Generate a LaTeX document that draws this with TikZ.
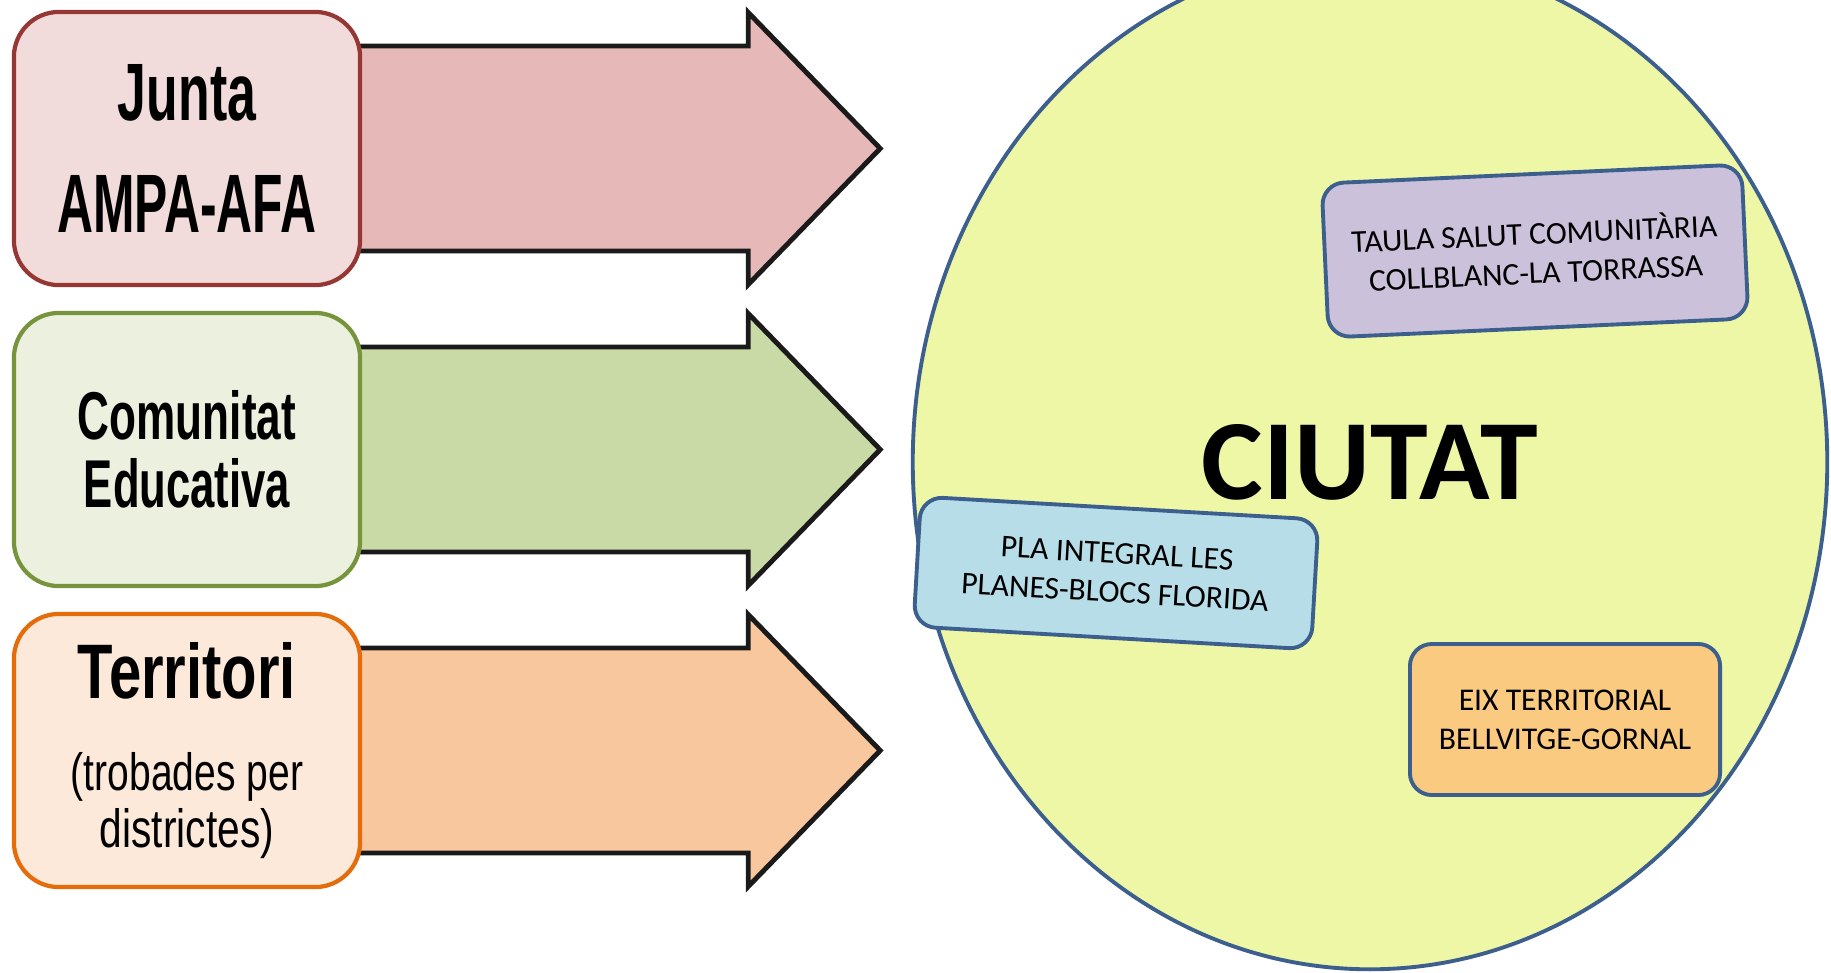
\documentclass[tikz,border=0pt]{standalone}
\usepackage{fontspec}
\setmainfont{Carlito}
\newfontfamily\narrowfont{Liberation Sans}
\usetikzlibrary{shapes.geometric,calc,backgrounds}
\definecolor{juntaline}{HTML}{953735}
\definecolor{juntafill}{HTML}{F2DCDB}
\definecolor{juntaarrow}{HTML}{E6B9B8}
\definecolor{comline}{HTML}{77933C}
\definecolor{comfill}{HTML}{EBF1DE}
\definecolor{comarrow}{HTML}{C9DAA6}
\definecolor{terline}{HTML}{E46C0A}
\definecolor{terfill}{HTML}{FDE9D9}
\definecolor{terarrow}{HTML}{F9C79D}
\definecolor{arrowline}{HTML}{1A1A1A}
\definecolor{cityfill}{HTML}{EDF7A6}
\definecolor{boxblue}{HTML}{3C5F8E}
\definecolor{taulafill}{HTML}{CCC1DA}
\definecolor{plafill}{HTML}{B7DEE8}
\definecolor{eixfill}{HTML}{F9CA7F}
\newcommand{\fitln}[3]{\resizebox{#1}{#2}{#3}}
\begin{document}
\begin{tikzpicture}[x=0.01cm,y=-0.01cm,
  leftbox/.style={draw, line width=1.2pt, rounded corners=0.45cm,
    minimum width=3.46cm, minimum height=2.73cm, align=center, inner sep=0pt},
  bigarrow/.style={draw=arrowline, line width=1.4pt, line join=miter},
  smallbox/.style={draw=boxblue, line width=1.1pt, rounded corners=0.22cm,
    align=center, inner sep=0pt, font=\fontsize{9}{11.1}\selectfont}]
\useasboundingbox (0,0) rectangle (1831,972);
\clip (0,0) rectangle (1831,972);
% left boxes
\node[leftbox, draw=juntaline, fill=juntafill, font=\narrowfont\bfseries\fontsize{20}{31.9}\selectfont]
  (junta) at (187,148.5) {\fitln{1.38cm}{0.56cm}{Junta}\\\fitln{2.59cm}{0.57cm}{AMPA-AFA}};
\node[leftbox, draw=comline, fill=comfill, font=\narrowfont\bfseries\fontsize{20}{19.35}\selectfont]
  (comunitat) at (187,449.5) {\fitln{2.18cm}{0.49cm}{Comunitat}\\\fitln{2.06cm}{0.49cm}{Educativa}};
\node[leftbox, draw=terline, fill=terfill, font=\narrowfont\fontsize{20}{16.2}\selectfont]
  (territori) at (187,750.5) {\fitln{2.18cm}{0.56cm}{\bfseries Territori}\\[0.35cm]\fitln{2.32cm}{0.38cm}{(trobades per}\\\fitln{1.74cm}{0.39cm}{districtes)}};
% big arrows behind the boxes
\begin{scope}[on background layer]
\fill[white] (0,0) rectangle (1831,972);
\foreach \b/\c in {junta/juntaarrow, comunitat/comarrow, territori/terarrow}{
  \draw[bigarrow, fill=\c] ($(\b.east)+(-30,-102.5)$) -- ($(\b.east)+(386,-102.5)$)
    -- ($(\b.east)+(386,-136)$) -- ($(\b.east)+(518,0)$) -- ($(\b.east)+(386,136)$)
    -- ($(\b.east)+(386,102.5)$) -- ($(\b.east)+(-30,102.5)$) -- cycle;
}
\end{scope}
% city
\node[ellipse, draw=boxblue, line width=1.1pt, fill=cityfill, minimum width=9.14cm,
  minimum height=10.14cm, inner sep=0pt, font=\bfseries] (ciutat) at (1370,462)
  {\fitln{3.36cm}{0.75cm}{CIUTAT}};
\node[smallbox, fill=taulafill, minimum width=4.2cm, minimum height=1.54cm, rotate=2.6]
  (taula) at (1535,251) {TAULA SALUT COMUNITÀRIA\\COLLBLANC-LA TORRASSA};
\node[smallbox, fill=plafill, minimum width=3.98cm, minimum height=1.3cm, rotate=-3.3]
  (pla) at (1116,573) {PLA INTEGRAL LES\\PLANES-BLOCS FLORIDA};
\node[smallbox, fill=eixfill, minimum width=3.1cm, minimum height=1.51cm]
  (eix) at (1565,719.5) {EIX TERRITORIAL\\BELLVITGE-GORNAL};
\end{tikzpicture}
\end{document}
